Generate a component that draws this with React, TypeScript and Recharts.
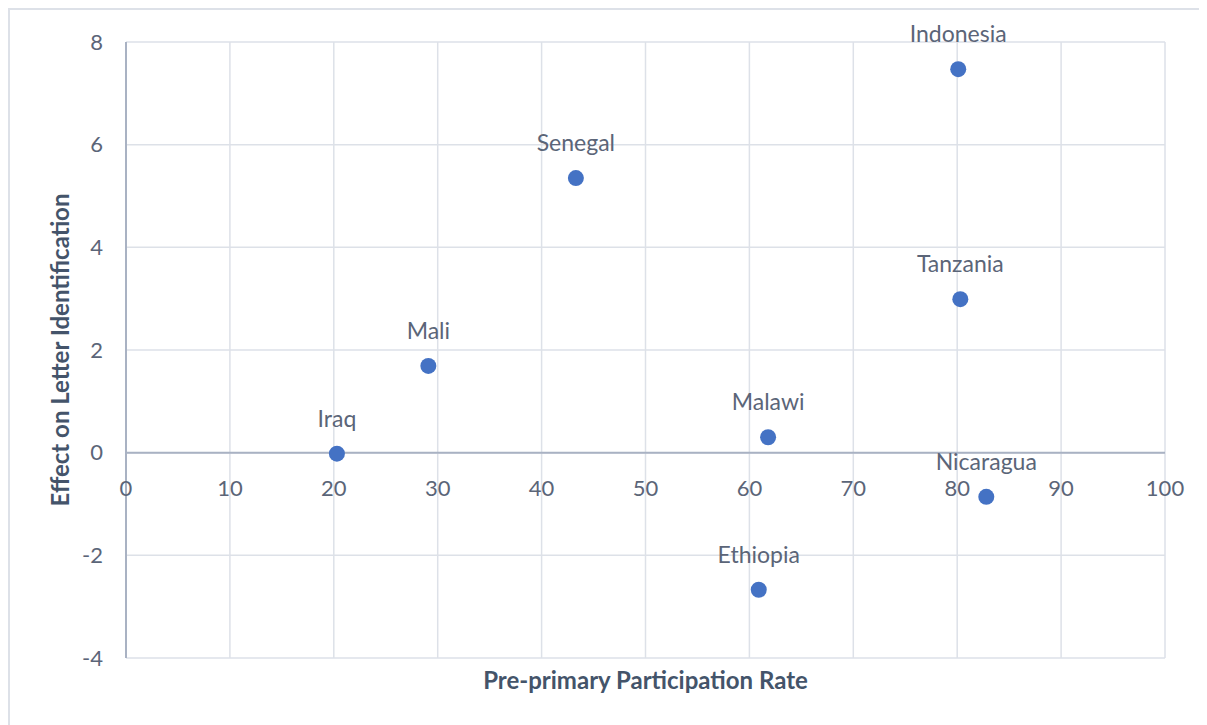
import {
    ScatterChart,
    Scatter,
    XAxis,
    YAxis,
    CartesianGrid,
    ReferenceLine,
    LabelList,
} from "recharts";

const countries = ["Iraq", "Mali", "Senegal", "Ethiopia", "Malawi", "Indonesia", "Tanzania", "Nicaragua"];
const participationRates = [20.3, 29.1, 43.3, 60.9, 61.8, 80.1, 80.3, 82.8];
const letterEffects = [-0.02, 1.69, 5.35, -2.67, 0.3, 7.47, 2.99, -0.86];

const xTicks = [0, 10, 20, 30, 40, 50, 60, 70, 80, 90, 100];
const yTicks = [-4, -2, 0, 2, 4, 6, 8];

const points = countries.map((name, i) => ({
    name,
    rate: participationRates[i],
    effect: letterEffects[i],
}));

const FONT = "Lato, 'Open Sans', sans-serif";
const TEXT = "#5b6578";
const TITLE = "#44546a";
const GRID = "#dde1e8";
const AXIS = "#a9b2c3";
const DOT = "#4472c4";

const W = 1197;
const H = 715;
const M = { top: 32, right: 42, left: 56, bottom: 27 };
const Y_AXIS_W = 60;
const X_AXIS_H = 40;
const PLOT_H = H - M.top - M.bottom - X_AXIS_H;
const Y_MIN = -4;
const Y_MAX = 8;
// distance from the bottom of the plot up to the zero line
const ZERO_UP = (PLOT_H * (0 - Y_MIN)) / (Y_MAX - Y_MIN);

function XTick(props: any) {
    const { x, y, payload } = props;
    return (
        <text
            x={x}
            y={y - ZERO_UP + 35}
            textAnchor="middle"
            dominantBaseline="central"
            fill={TEXT}
            fontSize={22}
            fontFamily={FONT}
        >
            {payload.value}
        </text>
    );
}

function XTitle(props: any) {
    const vb = props.viewBox;
    return (
        <text
            x={vb.x + vb.width / 2}
            y={vb.y + 21}
            textAnchor="middle"
            dominantBaseline="central"
            fill={TITLE}
            fontSize={24}
            fontWeight="bold"
            fontFamily={FONT}
        >
            Pre-primary Participation Rate
        </text>
    );
}

function YTitle(props: any) {
    const vb = props.viewBox;
    const cx = vb.x - 7;
    const cy = vb.y + vb.height / 2;
    return (
        <text
            x={cx}
            y={cy}
            transform={`rotate(-90 ${cx} ${cy})`}
            textAnchor="middle"
            dominantBaseline="central"
            fill={TITLE}
            fontSize={24}
            fontWeight="bold"
            fontFamily={FONT}
        >
            Effect on Letter Identification
        </text>
    );
}

function Dot(props: any) {
    return <circle cx={props.cx} cy={props.cy} r={8} fill={DOT} />;
}

function PointLabel(props: any) {
    const { x, y, width, height, value } = props;
    const cx = x + width / 2;
    const cy = y + height / 2;
    return (
        <text
            x={cx}
            y={cy - 36}
            textAnchor="middle"
            dominantBaseline="central"
            fill={TEXT}
            fontSize={23}
            fontFamily={FONT}
        >
            {value}
        </text>
    );
}

export default function App() {
    return (
        <div
            style={{
                width: W + 2,
                height: H + 2,
                boxSizing: "border-box",
                borderTop: `2px solid ${GRID}`,
                borderLeft: `2px solid ${GRID}`,
                background: "#fff",
            }}
        >
            <ScatterChart width={W} height={H} margin={M}>
                <CartesianGrid stroke={GRID} strokeWidth={1.5} />
                <XAxis
                    type="number"
                    dataKey="rate"
                    domain={[0, 100]}
                    ticks={xTicks}
                    height={X_AXIS_H}
                    axisLine={false}
                    tickLine={false}
                    tickSize={0}
                    tickMargin={0}
                    tick={<XTick />}
                    label={{ content: <XTitle /> }}
                />
                <YAxis
                    type="number"
                    dataKey="effect"
                    domain={[Y_MIN, Y_MAX]}
                    ticks={yTicks}
                    width={Y_AXIS_W}
                    axisLine={{ stroke: AXIS, strokeWidth: 2 }}
                    tickLine={false}
                    tickSize={0}
                    tickMargin={23}
                    tick={{ fill: TEXT, fontSize: 22, fontFamily: FONT }}
                    label={{ content: <YTitle /> }}
                />
                <ReferenceLine y={0} stroke={AXIS} strokeWidth={2} />
                <Scatter data={points} fill={DOT} shape={<Dot />} isAnimationActive={false}>
                    <LabelList dataKey="name" content={<PointLabel />} />
                </Scatter>
            </ScatterChart>
        </div>
    );
}
